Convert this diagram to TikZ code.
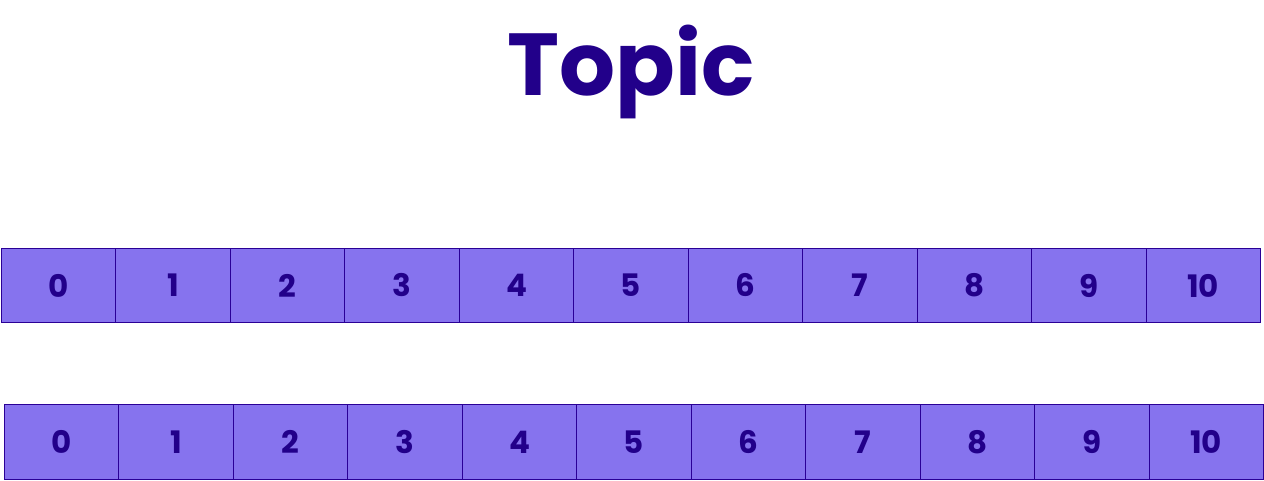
\documentclass[tikz,border=0pt]{standalone}
\usepackage{fontspec}
\setmainfont{Poppins}
\usepackage{tikz}
\usetikzlibrary{positioning}
\definecolor{cellfill}{RGB}{134,115,238}
\definecolor{celldraw}{RGB}{42,0,150}
\definecolor{topicink}{RGB}{34,0,138}

\begin{document}
\begin{tikzpicture}[x=1pt, y=-1pt,
  cell/.style={draw=celldraw, line width=1pt, fill=cellfill, rectangle, inner sep=0pt,
    minimum width=114.45pt, minimum height=74pt, anchor=north west,
    text=topicink, font=\fontsize{31}{31}\selectfont\bfseries}]
\useasboundingbox (0,0) rectangle (1264,480);
% title
\node[text=topicink, anchor=base, font=\fontsize{88}{88}\selectfont\bfseries] (title) at (631,95) {Topic};
% first row
\foreach \i in {0,...,10}
  \node[cell] (a\i) at ({1+114.45*\i},248) {\i};
% second row
\foreach \i in {0,...,10}
  \node[cell, minimum height=75pt] (b\i) at ({4+114.45*\i},404) {\i};
\end{tikzpicture}
\end{document}
